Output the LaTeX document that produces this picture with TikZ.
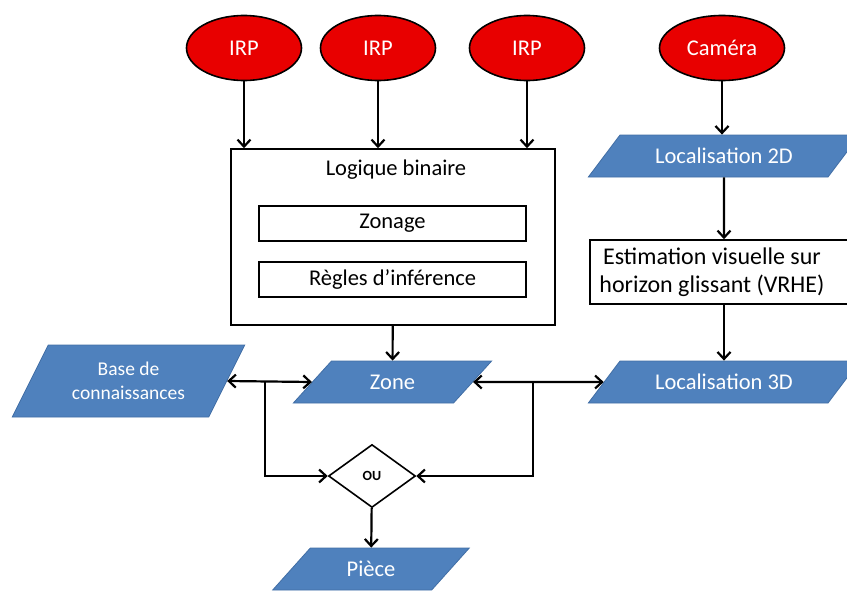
\documentclass[tikz,border=0pt]{standalone}
\usepackage{fontspec}
\setmainfont{Carlito}
\usepackage{tikz}
\usetikzlibrary{arrows.meta, shapes.geometric}
\definecolor{capteurrouge}{RGB}{232,0,0}
\definecolor{donneebleu}{RGB}{79,129,189}
\definecolor{donneebord}{RGB}{65,110,165}

\begin{document}
\begin{tikzpicture}[x=1pt, y=-1pt,
    capteur/.style={ellipse, draw=black, line width=1.6pt, fill=capteurrouge, text=white,
        minimum width=115, minimum height=65, inner sep=0pt, font=\fontsize{22.5}{26}\selectfont},
    donnee/.style={trapezium, trapezium stretches=true, draw=donneebord, line width=0.8pt,
        fill=donneebleu, text=white, inner sep=0pt, font=\fontsize{22.5}{26}\selectfont},
    bloc/.style={rectangle, draw=black, line width=1.6pt, fill=white, inner sep=0pt,
        font=\fontsize{22.5}{26}\selectfont},
    fleche/.style={-{Straight Barb[length=7pt, width=13pt]}, line width=2.2pt},
    double/.style={{Straight Barb[length=7pt, width=13pt]}-{Straight Barb[length=7pt, width=13pt]}, line width=2.2pt}]
    \useasboundingbox (0,0) rectangle (847,592);

    % capteurs
    \node[capteur] (irp1) at (244,48) {IRP};
    \node[capteur] (irp2) at (378,48) {IRP};
    \node[capteur] (irp3) at (527,48) {IRP};
    \node[capteur, minimum width=125] (camera) at (722,48) {Caméra};

    % logique binaire
    \node[bloc, minimum width=324, minimum height=176] (logique) at (393,237) {};
    \node[font=\fontsize{22.5}{26}\selectfont] (titre) at (396,170) {Logique binaire};
    \node[bloc, minimum width=267, minimum height=35] (zonage) at (392.5,223.5) {Zonage};
    \node[bloc, minimum width=267, minimum height=35] (regles) at (392.5,279.5) {Règles d’inférence};

    % branche camera
    \node[donnee, minimum width=272, minimum height=42, trapezium left angle=37, trapezium right angle=143] (loc2d) at (724,156) {Localisation 2D};
    \node[bloc, minimum width=268, minimum height=64] (estim) at (724,272) {};
    \node[align=center, font=\fontsize{24}{28.5}\selectfont, inner sep=0pt] (estimtxt) at (712,272) {Estimation visuelle sur\\horizon glissant (VRHE)};
    \node[donnee, minimum width=272, minimum height=42, trapezium left angle=37, trapezium right angle=143] (loc3d) at (724,382) {Localisation 3D};

    % donnees
    \node[donnee, minimum width=233, minimum height=72, trapezium left angle=56, trapezium right angle=124,
        align=center, font=\fontsize{19.5}{24}\selectfont] (base) at (128.5,381) {Base de\\connaissances};
    \node[donnee, minimum width=199, minimum height=42, trapezium left angle=46, trapezium right angle=134] (zone) at (392.5,382) {Zone};
    \node[diamond, draw=black, line width=1.6pt, minimum width=87, minimum height=63, inner sep=0pt,
        font=\fontsize{14}{16}\selectfont\bfseries] (ou) at (372,476) {OU};
    \node[donnee, minimum width=198, minimum height=42, trapezium left angle=46, trapezium right angle=134] (piece) at (371,569) {Pièce};

    % connexions
    \foreach \s in {irp1, irp2, irp3}
        \draw[fleche] (\s) -- (\s |- logique.north);
    \draw[fleche] (camera) -- (camera |- loc2d.north);
    \draw[fleche] (loc2d) -- (estim);
    \draw[fleche] (estim) -- (loc3d);
    \draw[fleche] (logique) -- (zone);
    \draw[double] (base.east) -- (zone.west);
    \draw[double] (zone.east) -- (loc3d.west);
    \coordinate (j1) at (265,382);
    \coordinate (j2) at (533,382);
    \draw[fleche] (j1) |- (ou.west);
    \draw[fleche] (j2) |- (ou.east);
    \draw[fleche] (ou) -- (piece);
\end{tikzpicture}
\end{document}
